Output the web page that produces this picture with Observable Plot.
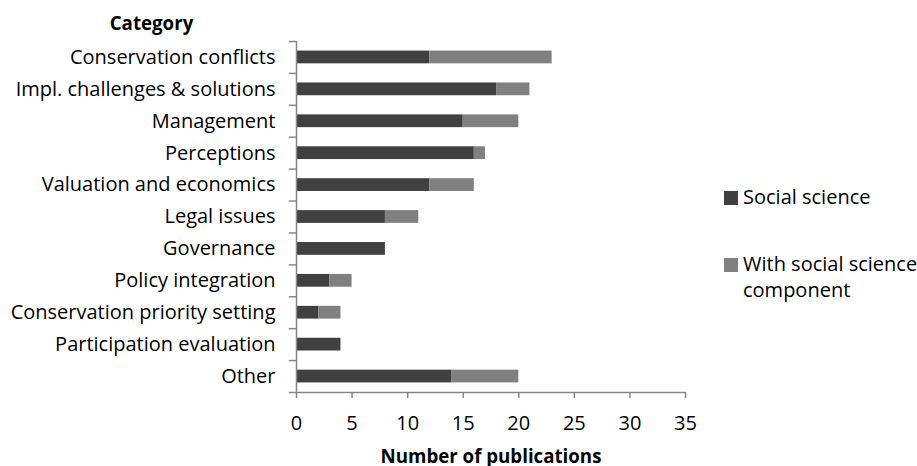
<!DOCTYPE html>
<html>
<head>
<meta charset="utf-8">
<script src="https://cdn.jsdelivr.net/npm/d3@7"></script>
<script src="https://cdn.jsdelivr.net/npm/@observablehq/plot@0.6"></script>
<style>
  html, body { margin: 0; padding: 0; background: #fff; }
  #wrap { position: relative; width: 917px; height: 466px; font-family: "Open Sans", sans-serif; }
  .legend { position: absolute; left: 724px; font-size: 20px; color: #000; line-height: 26px; white-space: nowrap; }
  .legend .sw { position: absolute; left: 0; top: 7px; width: 14px; height: 14px; }
  .legend .lbl { margin-left: 19px; display: block; }
</style>
</head>
<body>
<div id="wrap"></div>
<script>
const categories = [
  "Conservation conflicts",
  "Impl. challenges & solutions",
  "Management",
  "Perceptions",
  "Valuation and economics",
  "Legal issues",
  "Governance",
  "Policy integration",
  "Conservation priority setting",
  "Participation evaluation",
  "Other"
];
const seriesNames = ["Social science", "With social science component"];
const legendLines = [["Social science"], ["With social science", "component"]];
const socialScience = [12, 18, 15, 16, 12, 8, 8, 3, 2, 4, 14];
const withComponent = [11, 3, 5, 1, 4, 3, 0, 2, 2, 0, 6];
const seriesColors = ["#404040", "#808080"];
const xTicks = [0, 5, 10, 15, 20, 25, 30, 35];

const rows = [];
categories.forEach((c, i) => {
  rows.push({category: c, series: seriesNames[0], value: socialScience[i]});
  rows.push({category: c, series: seriesNames[1], value: withComponent[i]});
});

const axisColor = "#868686";
const step = (466 - 41 - 74) / categories.length;

const chart = Plot.plot({
  width: 917,
  height: 466,
  marginLeft: 296,
  marginRight: 232,
  marginTop: 41,
  marginBottom: 74,
  style: {fontFamily: "Open Sans, sans-serif", fontSize: "20px", color: "#000", background: "#fff"},
  x: {domain: [0, 35], ticks: xTicks},
  y: {domain: categories, paddingInner: 0.6, paddingOuter: 0.3, round: false},
  color: {domain: seriesNames, range: seriesColors},
  marks: [
    Plot.barX(rows, Plot.stackX({
      y: "category", x: "value", fill: "series", order: seriesNames
    })),
    // y axis line
    Plot.ruleX([0], {stroke: axisColor, strokeWidth: 1.5}),
    // category boundary ticks
    Plot.ruleY(categories, {y: d => d, x1: -0.65, x2: 0, dy: -step / 2, stroke: axisColor, strokeWidth: 1.5}),
    // x axis line
    Plot.ruleY([categories[categories.length - 1]], {y: d => d, x1: -0.65, x2: 35, dy: step / 2, stroke: axisColor, strokeWidth: 1.5}),
    Plot.axisY({tickSize: 0, tickPadding: 21, label: null, fontSize: 20}),
    Plot.axisX({ticks: xTicks, tickSize: 6, tickPadding: 17, stroke: axisColor, strokeWidth: 1.5, label: null, fontSize: 20, tickFormat: d => String(d)}),
    Plot.text(["Category"], {frameAnchor: "top-left", dx: -145, dy: -25, fontWeight: "bold", fontSize: 18.7, textAnchor: "middle"}),
    Plot.text(["Number of publications"], {frameAnchor: "bottom", dy: 70, fontWeight: "bold", fontSize: 18.7, textAnchor: "middle"})
  ]
});

const wrap = document.getElementById("wrap");
wrap.appendChild(chart);

const legendTops = [184, 251];
seriesNames.forEach((name, i) => {
  const div = document.createElement("div");
  div.className = "legend";
  div.style.top = legendTops[i] + "px";
  const sw = document.createElement("span");
  sw.className = "sw";
  sw.style.background = seriesColors[i];
  div.appendChild(sw);
  legendLines[i].forEach(t => {
    const lbl = document.createElement("span");
    lbl.className = "lbl";
    lbl.textContent = t;
    div.appendChild(lbl);
  });
  wrap.appendChild(div);
});
</script>
</body>
</html>
